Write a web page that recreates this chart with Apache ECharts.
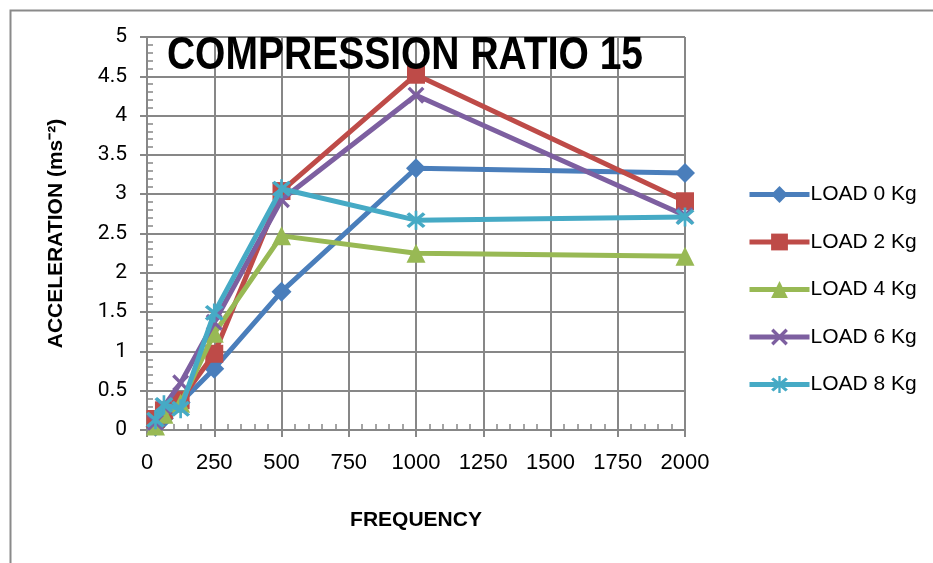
<!DOCTYPE html>
<html><head><meta charset="utf-8">
<script src="https://cdn.jsdelivr.net/npm/echarts@6/dist/echarts.min.js"></script>
<style>html,body{margin:0;padding:0;background:#fff}#c{width:933px;height:563px}</style>
</head><body><div id="c"></div>
<script>
const frequencies = [31.5, 63, 125, 250, 500, 1000, 2000];
const load0 = [0.04, 0.15, 0.35, 0.78, 1.76, 3.33, 3.27];
const load2 = [0.14, 0.25, 0.38, 0.97, 3.04, 4.52, 2.91];
const load4 = [0.05, 0.2, 0.34, 1.23, 2.47, 2.25, 2.21];
const load6 = [0.1, 0.3, 0.6, 1.37, 2.93, 4.26, 2.73];
const load8 = [0.13, 0.32, 0.27, 1.49, 3.07, 2.67, 2.71];
const seriesNames = ['LOAD 0 Kg', 'LOAD 2 Kg', 'LOAD 4 Kg', 'LOAD 6 Kg', 'LOAD 8 Kg'];
const title = 'COMPRESSION RATIO 15';
const xName = 'FREQUENCY';
const yName = 'ACCELERATION (ms\u207B\u00B2)';

const colors = ['#4A7EBB', '#BE4B48', '#98B954', '#7D5FA0', '#46AAC5'];
const xSym = 'path://M0,1.4 L1.4,0 L10,8.6 L8.6,10 Z M8.6,0 L10,1.4 L1.4,10 L0,8.6 Z';
const starSym = 'path://M0,1.4 L1.4,0 L10,8.6 L8.6,10 Z M8.6,0 L10,1.4 L1.4,10 L0,8.6 Z M4.3,-1 L5.7,-1 L5.7,11 L4.3,11 Z';
const symbols = ['diamond', 'rect', 'triangle', xSym, starSym];
const sizes = [20, 18, 19, 17, 19];
const allData = [load0, load2, load4, load6, load8];

const font = "'Liberation Sans', Arial, sans-serif";
const numFont = "Roboto, 'Liberation Sans', sans-serif";
const gridCol = '#878787';

const chart = echarts.init(document.getElementById('c'), null, {renderer: 'canvas'});
const option = {
  animation: false,
  color: colors,
  graphic: [{
    type: 'rect', left: 8, top: 8, z: -10,
    shape: {width: 1000, height: 1000},
    style: {fill: 'none', stroke: '#8a8a8a', lineWidth: 2}
  }, {
    type: 'text', x: 405, y: 56, scaleX: 0.83, z: 100,
    style: {text: title, font: "bold 47px 'Liberation Sans', Arial, sans-serif",
      fill: '#000', align: 'center', verticalAlign: 'middle'}
  }],
  legend: {
    orient: 'vertical', left: 742, top: 179,
    itemWidth: 60, itemHeight: 21, itemGap: 26.5,
    data: seriesNames,
    lineStyle: {width: 5},
    textStyle: {fontFamily: font, fontSize: 21, color: '#000', padding: [0, 0, 0, -4]}
  },
  grid: {left: 147, right: 248, top: 37, bottom: 133},
  xAxis: [{
    type: 'value', min: 0, max: 2000, interval: 250, position: 'bottom',
    name: xName, nameLocation: 'middle', nameGap: 80,
    nameTextStyle: {fontFamily: font, fontWeight: 'bold', fontSize: 21, color: '#000'},
    axisLine: {lineStyle: {color: gridCol, width: 2}},
    axisTick: {show: true, length: 7, lineStyle: {color: gridCol, width: 2}},
    axisLabel: {fontFamily: font, fontSize: 22, color: '#000', margin: 22, formatter: v => String(v)},
    splitLine: {show: true, lineStyle: {color: gridCol, width: 2}}
  }, {
    type: 'value', min: 0, max: 2000, interval: 250, position: 'bottom',
    axisLine: {show: false},
    axisTick: {show: false, inside: true},
    axisLabel: {show: false},
    splitLine: {show: false},
    minorTick: {show: true, splitNumber: 5, length: 6, lineStyle: {color: gridCol, width: 1.5}}
  }],
  yAxis: [{
    type: 'value', min: 0, max: 5, interval: 0.5, position: 'left',
    name: yName, nameLocation: 'middle', nameGap: 80,
    nameTextStyle: {fontFamily: font, fontWeight: 'bold', fontSize: 21, color: '#000'},
    axisLine: {show: true, lineStyle: {color: gridCol, width: 2}},
    axisTick: {show: true, length: 7, lineStyle: {color: gridCol, width: 2}},
    axisLabel: {fontFamily: numFont, fontSize: 21, color: '#000', margin: 20},
    splitLine: {show: true, lineStyle: {color: gridCol, width: 2}}
  }, {
    type: 'value', min: 0, max: 5, interval: 0.5, position: 'left',
    axisLine: {show: false},
    axisTick: {show: false, inside: true},
    axisLabel: {show: false},
    splitLine: {show: false},
    minorTick: {show: true, splitNumber: 5, length: 6, lineStyle: {color: gridCol, width: 1.5}}
  }],
  series: seriesNames.map((n, i) => ({
    name: n, type: 'line', xAxisIndex: 0, yAxisIndex: 0,
    data: frequencies.map((f, j) => [f, allData[i][j]]),
    symbol: symbols[i], symbolSize: sizes[i],
    lineStyle: {width: 5, color: colors[i]},
    itemStyle: {color: colors[i]},
    z: 2 + i
  }))
};
chart.setOption(option);
</script></body></html>
